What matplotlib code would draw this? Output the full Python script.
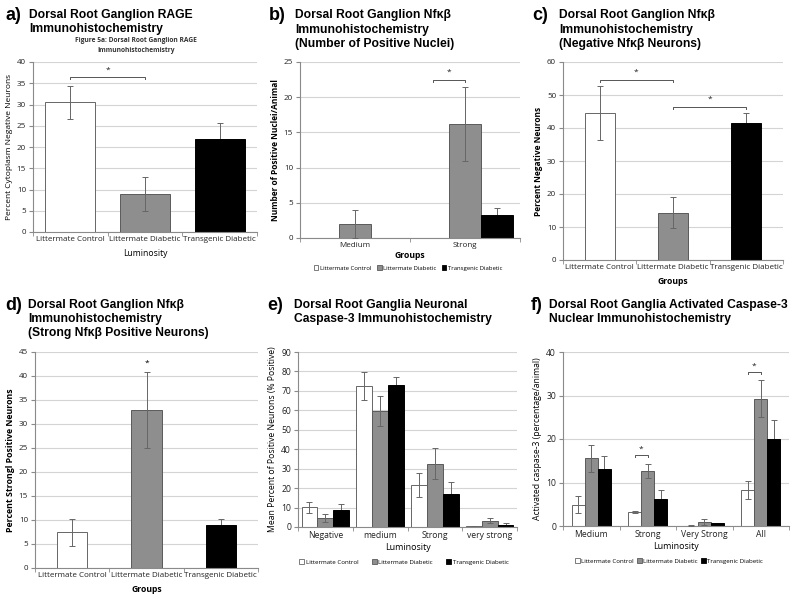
import numpy as np
import matplotlib
matplotlib.use("Agg")
import matplotlib.pyplot as plt
from matplotlib.patches import Patch

# ---------------- data ----------------
groups3 = ["Littermate Control", "Littermate Diabetic", "Transgenic Diabetic"]
series_names = ["Littermate Control", "Littermate Diabetic", "Transgenic Diabetic"]

# a) RAGE
a_vals = [30.5, 9.0, 21.8]
a_err = [3.9, 4.0, 3.9]
# b) Nfkb number of positive nuclei
b_cats = ["Medium", "Strong"]
b_control = [0.0, 0.0]
b_ldiab = [2.0, 16.2]
b_tdiab = [0.0, 3.3]
b_control_err = [0.0, 0.0]
b_ldiab_err = [2.0, 5.2]
b_tdiab_err = [0.0, 0.9]
# c) negative Nfkb neurons
c_vals = [44.5, 14.3, 41.4]
c_err = [8.2, 4.7, 3.1]
# d) strong Nfkb positive neurons
d_vals = [7.4, 33.0, 8.9]
d_err = [2.8, 7.9, 1.3]
# e) caspase-3 neuronal
e_cats = ["Negative", "medium", "Strong", "very strong"]
e_control = [10.2, 72.5, 21.5, 0.5]
e_ldiab = [4.8, 59.8, 32.5, 3.3]
e_tdiab = [9.0, 73.1, 17.0, 1.2]
e_control_err = [2.9, 7.2, 6.2, 0.2]
e_ldiab_err = [2.0, 7.8, 7.9, 1.4]
e_tdiab_err = [3.0, 4.0, 6.0, 0.8]
# f) activated caspase-3 nuclear
f_cats = ["Medium", "Strong", "Very Strong", "All"]
f_control = [4.9, 3.3, 0.1, 8.3]
f_ldiab = [15.6, 12.7, 0.9, 29.3]
f_tdiab = [13.0, 6.2, 0.6, 20.0]
f_control_err = [2.0, 0.2, 0.05, 2.0]
f_ldiab_err = [3.1, 1.6, 0.7, 4.2]
f_tdiab_err = [3.1, 2.0, 0.2, 4.4]

# significance brackets: (x_start, x_end, y)
sig_a = [(0, 1, 36.4)]
sig_b = [(1 - 0.29, 1, 22.5)]
sig_c = [(0, 1, 54.6), (1, 2, 46.5)]
sig_f = [(1 - 0.23, 1, 16.4), (3 - 0.23, 3, 35.5)]

# ---------------- style ----------------
W, H = 795, 599
fig = plt.figure(figsize=(W / 100, H / 100), dpi=100)
fig.patch.set_facecolor("white")

TICKFONT = "Open Sans"
TITLEFONT = "Liberation Sans"
COLORS = ["white", "#8e8e8e", "black"]
EDGES = ["#666666", "#5a5a5a", "black"]
ERRC = "#666666"
GRIDC = "#d4d4d4"
SPINEC = "#8a8a8a"


def rect(l, t, r, b):
    return [l / W, 1 - b / H, (r - l) / W, (b - t) / H]


def style_axes(ax, ylim, ystep, ncat, ticksize=5.8):
    ax.set_ylim(*ylim)
    ax.set_yticks(np.arange(ylim[0], ylim[1] + 0.01, ystep))
    ax.set_xlim(-0.5, ncat - 0.5)
    for s in ["top", "right"]:
        ax.spines[s].set_visible(False)
    for s in ["left", "bottom"]:
        ax.spines[s].set_color(SPINEC)
        ax.spines[s].set_linewidth(0.8)
    ax.yaxis.grid(True, color=GRIDC, linewidth=0.8)
    ax.set_axisbelow(True)
    ax.set_xticks(np.arange(ncat))
    ax.set_xticks(np.arange(-0.5, ncat, 1.0), minor=True)
    ax.tick_params(axis="x", which="major", length=0, pad=3, labelsize=ticksize)
    ax.tick_params(axis="x", which="minor", length=3, color=SPINEC)
    ax.tick_params(axis="y", length=3, color=SPINEC, pad=2, labelsize=ticksize)
    for lab in ax.get_xticklabels() + ax.get_yticklabels():
        lab.set_fontfamily(TICKFONT)
        lab.set_color("#222222")


def err_z(k):
    # error bars of the black series sit behind the bar (only the upper half shows)
    return 1.5 if k == 2 else 3


def single_bars(ax, vals, err, width):
    x = np.arange(len(vals))
    for i in range(len(vals)):
        ax.bar(x[i], vals[i], width, color=COLORS[i], edgecolor=EDGES[i], linewidth=0.7, zorder=2)
        ax.errorbar(x[i], vals[i], yerr=err[i], fmt="none", ecolor=ERRC, elinewidth=0.7, capsize=2,
                    capthick=0.7, zorder=err_z(i))
    ax.set_xticklabels(groups3, fontfamily=TICKFONT)


def grouped_bars(ax, cats, series, errs, width):
    x = np.arange(len(cats))
    for k, (vals, e) in enumerate(zip(series, errs)):
        pos = x + (k - 1) * width
        ax.bar(pos, vals, width, color=COLORS[k], edgecolor=EDGES[k], linewidth=0.7, zorder=2)
        e_arr = np.array(e, dtype=float)
        mask = e_arr > 0
        ax.errorbar(pos[mask], np.array(vals)[mask], yerr=e_arr[mask], fmt="none", ecolor=ERRC,
                    elinewidth=0.7, capsize=2, capthick=0.7, zorder=err_z(k))
    ax.set_xticklabels(cats, fontfamily=TICKFONT)


def brackets(ax, sigs, tick, staroff):
    for x0, x1, y in sigs:
        ax.plot([x0, x0, x1, x1], [y - tick, y, y, y - tick], color="#555555", lw=0.7, zorder=4)
        ax.text((x0 + x1) / 2, y + staroff, "*", ha="center", va="center", fontsize=6,
                fontfamily=TICKFONT, color="#222222")


def title(letter, lines, xl, xt, y0, dy):
    fig.text(xl / W, 1 - y0 / H, letter, fontsize=13, fontweight="bold", fontfamily=TITLEFONT,
             va="center", ha="left")
    for i, ln in enumerate(lines):
        fig.text(xt / W, 1 - (y0 + i * dy) / H, ln, fontsize=8.7, fontweight="bold",
                 fontfamily=TITLEFONT, va="center", ha="left")


def legend_at(cx, cy, gap=1.0, size=4.5):
    handles = [Patch(facecolor=COLORS[k], edgecolor=EDGES[k], linewidth=0.6) for k in range(3)]
    fig.legend(handles, series_names, loc="center", bbox_to_anchor=(cx / W, 1 - cy / H), ncol=3,
               frameon=False, prop={"family": TICKFONT, "size": size}, handlelength=0.8,
               handleheight=0.8, handletextpad=0.25, columnspacing=gap, borderaxespad=0)


# ---------------- panel a ----------------
ax = fig.add_axes(rect(33, 62, 257, 232))
single_bars(ax, a_vals, a_err, 0.67)
style_axes(ax, (0, 40), 5, 3)
ax.set_xticklabels(groups3, fontfamily=TICKFONT)
ax.set_ylabel("Percent Cytoplasm Negative Neurons", fontsize=6, fontfamily=TICKFONT, labelpad=3)
ax.set_xlabel("Luminosity", fontsize=6.2, fontfamily=TICKFONT, labelpad=4)
brackets(ax, sig_a, 0.4, 1.6)
title("a)", ["Dorsal Root Ganglion RAGE", "Immunohistochemistry"], 5, 29, 15, 14)
fig.text(136 / W, 1 - 40 / H, "Figure 5a: Dorsal Root Ganglion RAGE", fontsize=4.8, fontweight="bold",
         fontfamily=TICKFONT, ha="center", va="center", color="#333333")
fig.text(136 / W, 1 - 50 / H, "Immunohistochemistry", fontsize=4.8, fontweight="bold",
         fontfamily=TICKFONT, ha="center", va="center", color="#333333")

# ---------------- panel b ----------------
ax = fig.add_axes(rect(300, 62, 520, 238))
grouped_bars(ax, b_cats, [b_control, b_ldiab, b_tdiab], [b_control_err, b_ldiab_err, b_tdiab_err], 0.29)
style_axes(ax, (0, 25), 5, 2)
ax.set_ylabel("Number of Positive Nuclei/Animal", fontsize=6, fontweight="bold", fontfamily=TICKFONT, labelpad=3)
ax.set_xlabel("Groups", fontsize=6.2, fontweight="bold", fontfamily=TICKFONT, labelpad=1)
brackets(ax, sig_b, 0.35, 1.0)
title("b)", ["Dorsal Root Ganglion Nfκβ", "Immunohistochemistry", "(Number of Positive Nuclei)"], 269, 295, 15, 14.5)
legend_at(408, 268, gap=0.9, size=4.3)

# ---------------- panel c ----------------
ax = fig.add_axes(rect(563, 62, 783, 260))
single_bars(ax, c_vals, c_err, 0.41)
style_axes(ax, (0, 60), 10, 3)
ax.set_xticklabels(groups3, fontfamily=TICKFONT)
ax.set_ylabel("Percent Negative Neurons", fontsize=6, fontweight="bold", fontfamily=TICKFONT, labelpad=3)
ax.set_xlabel("Groups", fontsize=6.2, fontweight="bold", fontfamily=TICKFONT, labelpad=4)
brackets(ax, sig_c, 0.6, 2.3)
title("c)", ["Dorsal Root Ganglion Nfκβ", "Immunohistochemistry", "(Negative Nfκβ Neurons)"], 532, 559, 15, 14.5)

# ---------------- panel d ----------------
ax = fig.add_axes(rect(35, 352, 258, 568))
single_bars(ax, d_vals, d_err, 0.41)
style_axes(ax, (0, 45), 5, 3)
ax.set_xticklabels(groups3, fontfamily=TICKFONT)
ax.set_ylabel("Percent Strongl Positive Neurons", fontsize=6.3, fontweight="bold", fontfamily=TICKFONT, labelpad=3)
ax.set_xlabel("Groups", fontsize=6.2, fontweight="bold", fontfamily=TICKFONT, labelpad=4)
ax.text(1, d_vals[1] + d_err[1] + 1.7, "*", ha="center", va="center", fontsize=6, fontfamily=TICKFONT)
title("d)", ["Dorsal Root Ganglion Nfκβ", "Immunohistochemistry", "(Strong Nfκβ Positive Neurons)"], 5, 28, 305, 14)

# ---------------- panel e ----------------
ax = fig.add_axes(rect(298, 352, 517, 527))
grouped_bars(ax, e_cats, [e_control, e_ldiab, e_tdiab], [e_control_err, e_ldiab_err, e_tdiab_err], 0.29)
style_axes(ax, (0, 90), 10, 4, ticksize=6.2)
ax.set_ylabel("Mean Percent of Positive Neurons (% Positive)", fontsize=6.2, fontfamily=TICKFONT, labelpad=3)
ax.set_xlabel("Luminosity", fontsize=6.4, fontfamily=TICKFONT, labelpad=2)
title("e)", ["Dorsal Root Ganglia Neuronal", "Caspase-3 Immunohistochemistry"], 267, 294, 305, 14)
legend_at(404, 562, gap=2.2, size=4.4)

# ---------------- panel f ----------------
ax = fig.add_axes(rect(563, 352, 789, 526))
grouped_bars(ax, f_cats, [f_control, f_ldiab, f_tdiab], [f_control_err, f_ldiab_err, f_tdiab_err], 0.23)
style_axes(ax, (0, 40), 10, 4, ticksize=6.2)
ax.set_ylabel("Activated caspase-3 (percentage/animal)", fontsize=6.2, fontfamily=TICKFONT, labelpad=3)
ax.set_xlabel("Luminosity", fontsize=6.4, fontfamily=TICKFONT, labelpad=2)
brackets(ax, sig_f, 0.6, 1.2)
title("f)", ["Dorsal Root Ganglia Activated Caspase-3", "Nuclear Immunohistochemistry"], 531, 549, 305, 14)
legend_at(669, 561, gap=0.5, size=4.4)

fig.savefig("out.png", dpi=100, facecolor="white")
